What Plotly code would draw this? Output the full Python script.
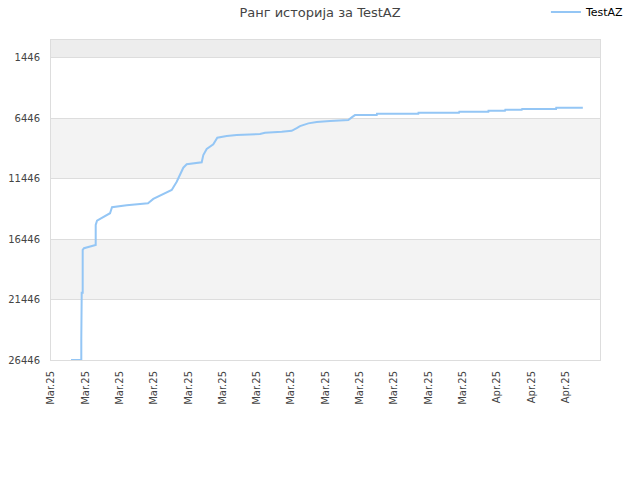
import plotly.graph_objects as go

# Data (x = position on the date axis in tick units, rank values)
x_vals = [0.583, 0.883, 0.883, 0.895, 0.924, 0.924, 0.962, 1.282, 1.303, 1.303, 1.341, 1.720,
          1.778, 2.206, 2.827, 2.982, 3.518, 3.664, 3.856, 3.955, 4.392, 4.439, 4.538, 4.730,
          4.847, 5.121, 5.412, 6.091, 6.237, 6.724, 7.015, 7.161, 7.258, 7.499, 7.744, 8.132,
          8.665, 8.764, 8.860, 9.493, 9.500, 10.705, 10.710, 11.890, 11.900, 12.746, 12.750,
          13.230, 13.240, 13.720, 13.730, 14.720, 14.725, 15.500]
rank_vals = [26446, 26446, 24686, 20891, 20891, 17344, 17204, 16931, 16931, 15281, 14927, 14316,
             13821, 13656, 13491, 13136, 12394, 11709, 10554, 10274, 10109, 9506, 9011, 8624,
             8079, 7939, 7856, 7774, 7667, 7584, 7502, 7279, 7114, 6891, 6784, 6701,
             6619, 6396, 6206, 6206, 6099, 6099, 6017, 6017, 5934, 5934, 5852,
             5852, 5769, 5769, 5712, 5712, 5604, 5604]

y_ticks = [1446, 6446, 11446, 16446, 21446, 26446]
x_tick_labels = ["Mar.25"] * 13 + ["Apr.25"] * 3
x_tick_pos = list(range(len(x_tick_labels)))
series_name = "TestAZ"
title_text = "Ранг историја за TestAZ"

fig = go.Figure()
fig.add_trace(go.Scatter(
    x=x_vals, y=rank_vals, mode="lines", name=series_name,
    line=dict(color="#94c6f5", width=2),
    showlegend=True,
))

# alternating background bands
shapes = []
band_edges = [0] + y_ticks
band_colors = ["#ededed", "white", "#f3f3f3", "white", "#f3f3f3", "white"]
for i in range(len(band_edges) - 1):
    if band_colors[i] != "white":
        shapes.append(dict(type="rect", xref="paper", yref="y", x0=0, x1=1,
                           y0=band_edges[i], y1=band_edges[i + 1],
                           fillcolor=band_colors[i], line=dict(width=0), layer="below"))

fig.update_layout(
    width=640, height=480,
    margin=dict(l=51, r=40, t=40, b=120, autoexpand=False),
    paper_bgcolor="white", plot_bgcolor="white",
    font=dict(family="DejaVu Sans", size=10, color="#444"),
    title=dict(text=title_text, x=0.5, xanchor="center", y=0.975, yanchor="middle",
               font=dict(size=13, color="#444")),
    shapes=shapes,
    legend=dict(xref="container", yref="container", x=0.853, xanchor="left", y=0.975, yanchor="middle",
                font=dict(size=11, color="black"), bgcolor="rgba(0,0,0,0)", itemwidth=30),
    xaxis=dict(range=[0, 16], tickvals=x_tick_pos, ticktext=x_tick_labels, tickangle=-90,
               showgrid=False, zeroline=False, showline=True, linecolor="#dddddd", mirror=True,
               ticks="", automargin=False, ticklabelstandoff=6,
               tickfont=dict(size=10, color="#444")),
    yaxis=dict(range=[26446, 0], tickvals=y_ticks, ticktext=[str(v) for v in y_ticks],
               showgrid=True, gridcolor="#dddddd", zeroline=False, showline=True,
               linecolor="#dddddd", mirror=True, ticks="", automargin=False, ticklabelstandoff=8,
               tickfont=dict(size=10, color="#444")),
)

fig.write_html("out.html", config={"displayModeBar": False},
               post_script="document.body.style.margin='0';")
